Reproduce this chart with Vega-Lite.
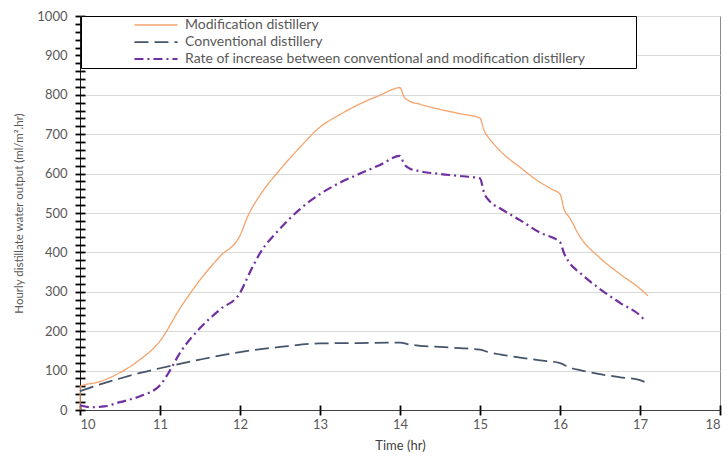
{
  "$schema": "https://vega.github.io/schema/vega-lite/v6.json",
  "width": 640,
  "height": 394,
  "autosize": "none",
  "padding": {"left": 80, "top": 16, "right": 7, "bottom": 47},
  "background": "white",
  "config": {
    "view": {"stroke": "#8c8c8c", "strokeWidth": 1},
    "font": "Lato"
  },
  "data": {
    "values": [
      {"t": 10, "v": 0, "series": "Modification distillery"},
      {"t": 10.003, "v": 60, "series": "Modification distillery"},
      {"t": 10.25, "v": 72, "series": "Modification distillery"},
      {"t": 10.5, "v": 95, "series": "Modification distillery"},
      {"t": 10.75, "v": 128, "series": "Modification distillery"},
      {"t": 11, "v": 175, "series": "Modification distillery"},
      {"t": 11.25, "v": 258, "series": "Modification distillery"},
      {"t": 11.5, "v": 330, "series": "Modification distillery"},
      {"t": 11.75, "v": 390, "series": "Modification distillery"},
      {"t": 12, "v": 443, "series": "Modification distillery"},
      {"t": 12.1, "v": 493, "series": "Modification distillery"},
      {"t": 12.25, "v": 545, "series": "Modification distillery"},
      {"t": 12.5, "v": 610, "series": "Modification distillery"},
      {"t": 12.75, "v": 667, "series": "Modification distillery"},
      {"t": 13, "v": 718, "series": "Modification distillery"},
      {"t": 13.25, "v": 750, "series": "Modification distillery"},
      {"t": 13.5, "v": 777, "series": "Modification distillery"},
      {"t": 13.75, "v": 799, "series": "Modification distillery"},
      {"t": 14, "v": 818, "series": "Modification distillery"},
      {"t": 14.05, "v": 795, "series": "Modification distillery"},
      {"t": 14.1, "v": 786, "series": "Modification distillery"},
      {"t": 14.25, "v": 776, "series": "Modification distillery"},
      {"t": 14.5, "v": 763, "series": "Modification distillery"},
      {"t": 14.75, "v": 752, "series": "Modification distillery"},
      {"t": 15, "v": 741, "series": "Modification distillery"},
      {"t": 15.05, "v": 710, "series": "Modification distillery"},
      {"t": 15.12, "v": 688, "series": "Modification distillery"},
      {"t": 15.25, "v": 658, "series": "Modification distillery"},
      {"t": 15.5, "v": 616, "series": "Modification distillery"},
      {"t": 15.75, "v": 578, "series": "Modification distillery"},
      {"t": 15.9, "v": 560, "series": "Modification distillery"},
      {"t": 16, "v": 548, "series": "Modification distillery"},
      {"t": 16.05, "v": 510, "series": "Modification distillery"},
      {"t": 16.12, "v": 488, "series": "Modification distillery"},
      {"t": 16.25, "v": 440, "series": "Modification distillery"},
      {"t": 16.5, "v": 386, "series": "Modification distillery"},
      {"t": 16.75, "v": 345, "series": "Modification distillery"},
      {"t": 17, "v": 308, "series": "Modification distillery"},
      {"t": 17.1, "v": 290, "series": "Modification distillery"},

      {"t": 10, "v": 48, "series": "Conventional distillery"},
      {"t": 10.25, "v": 65, "series": "Conventional distillery"},
      {"t": 10.5, "v": 80, "series": "Conventional distillery"},
      {"t": 10.75, "v": 94, "series": "Conventional distillery"},
      {"t": 11, "v": 106, "series": "Conventional distillery"},
      {"t": 11.5, "v": 128, "series": "Conventional distillery"},
      {"t": 12, "v": 147, "series": "Conventional distillery"},
      {"t": 12.5, "v": 160, "series": "Conventional distillery"},
      {"t": 13, "v": 169, "series": "Conventional distillery"},
      {"t": 13.5, "v": 170, "series": "Conventional distillery"},
      {"t": 14, "v": 171, "series": "Conventional distillery"},
      {"t": 14.12, "v": 166, "series": "Conventional distillery"},
      {"t": 14.25, "v": 163, "series": "Conventional distillery"},
      {"t": 14.5, "v": 160, "series": "Conventional distillery"},
      {"t": 14.75, "v": 157, "series": "Conventional distillery"},
      {"t": 15, "v": 153, "series": "Conventional distillery"},
      {"t": 15.12, "v": 146, "series": "Conventional distillery"},
      {"t": 15.25, "v": 141, "series": "Conventional distillery"},
      {"t": 15.5, "v": 133, "series": "Conventional distillery"},
      {"t": 15.75, "v": 126, "series": "Conventional distillery"},
      {"t": 16, "v": 119, "series": "Conventional distillery"},
      {"t": 16.12, "v": 108, "series": "Conventional distillery"},
      {"t": 16.25, "v": 101, "series": "Conventional distillery"},
      {"t": 16.5, "v": 91, "series": "Conventional distillery"},
      {"t": 16.75, "v": 83, "series": "Conventional distillery"},
      {"t": 17, "v": 76, "series": "Conventional distillery"},
      {"t": 17.08, "v": 69, "series": "Conventional distillery"},

      {"t": 10, "v": 12, "series": "Rate of increase between conventional and modification distillery"},
      {"t": 10.15, "v": 7, "series": "Rate of increase between conventional and modification distillery"},
      {"t": 10.3, "v": 9, "series": "Rate of increase between conventional and modification distillery"},
      {"t": 10.5, "v": 20, "series": "Rate of increase between conventional and modification distillery"},
      {"t": 10.75, "v": 35, "series": "Rate of increase between conventional and modification distillery"},
      {"t": 11, "v": 63, "series": "Rate of increase between conventional and modification distillery"},
      {"t": 11.1, "v": 92, "series": "Rate of increase between conventional and modification distillery"},
      {"t": 11.25, "v": 145, "series": "Rate of increase between conventional and modification distillery"},
      {"t": 11.5, "v": 208, "series": "Rate of increase between conventional and modification distillery"},
      {"t": 11.75, "v": 255, "series": "Rate of increase between conventional and modification distillery"},
      {"t": 12, "v": 297, "series": "Rate of increase between conventional and modification distillery"},
      {"t": 12.12, "v": 348, "series": "Rate of increase between conventional and modification distillery"},
      {"t": 12.25, "v": 398, "series": "Rate of increase between conventional and modification distillery"},
      {"t": 12.5, "v": 460, "series": "Rate of increase between conventional and modification distillery"},
      {"t": 12.75, "v": 510, "series": "Rate of increase between conventional and modification distillery"},
      {"t": 13, "v": 548, "series": "Rate of increase between conventional and modification distillery"},
      {"t": 13.25, "v": 577, "series": "Rate of increase between conventional and modification distillery"},
      {"t": 13.5, "v": 600, "series": "Rate of increase between conventional and modification distillery"},
      {"t": 13.75, "v": 622, "series": "Rate of increase between conventional and modification distillery"},
      {"t": 14, "v": 645, "series": "Rate of increase between conventional and modification distillery"},
      {"t": 14.05, "v": 625, "series": "Rate of increase between conventional and modification distillery"},
      {"t": 14.12, "v": 613, "series": "Rate of increase between conventional and modification distillery"},
      {"t": 14.25, "v": 606, "series": "Rate of increase between conventional and modification distillery"},
      {"t": 14.5, "v": 599, "series": "Rate of increase between conventional and modification distillery"},
      {"t": 14.75, "v": 594, "series": "Rate of increase between conventional and modification distillery"},
      {"t": 15, "v": 588, "series": "Rate of increase between conventional and modification distillery"},
      {"t": 15.05, "v": 552, "series": "Rate of increase between conventional and modification distillery"},
      {"t": 15.12, "v": 530, "series": "Rate of increase between conventional and modification distillery"},
      {"t": 15.25, "v": 512, "series": "Rate of increase between conventional and modification distillery"},
      {"t": 15.5, "v": 482, "series": "Rate of increase between conventional and modification distillery"},
      {"t": 15.75, "v": 450, "series": "Rate of increase between conventional and modification distillery"},
      {"t": 16, "v": 426, "series": "Rate of increase between conventional and modification distillery"},
      {"t": 16.05, "v": 398, "series": "Rate of increase between conventional and modification distillery"},
      {"t": 16.12, "v": 373, "series": "Rate of increase between conventional and modification distillery"},
      {"t": 16.25, "v": 348, "series": "Rate of increase between conventional and modification distillery"},
      {"t": 16.5, "v": 307, "series": "Rate of increase between conventional and modification distillery"},
      {"t": 16.75, "v": 272, "series": "Rate of increase between conventional and modification distillery"},
      {"t": 17, "v": 240, "series": "Rate of increase between conventional and modification distillery"},
      {"t": 17.06, "v": 228, "series": "Rate of increase between conventional and modification distillery"}
    ]
  },
  "layer": [
    {
      "mark": {"type": "line", "interpolate": "monotone"},
      "encoding": {
        "x": {
          "field": "t", "type": "quantitative",
          "scale": {"domain": [10, 18], "nice": false, "zero": false},
          "axis": {
            "title": "Time (hr)", "titleColor": "#404040", "titleFontSize": 13, "titleFontWeight": "normal", "titlePadding": 8,
            "values": [10, 11, 12, 13, 14, 15, 16, 17, 18],
            "format": "d", "labelColor": "#595959", "labelFontSize": 13, "labelPadding": 3,
            "tickSize": 5, "tickWidth": 1.8, "tickColor": "#000000", "domainColor": "#404040", "grid": false
          }
        },
        "y": {
          "field": "v", "type": "quantitative",
          "scale": {"domain": [0, 1000], "nice": false},
          "axis": {
            "title": "Hourly distillate water output (ml/m².hr)", "titleColor": "#595959", "titleFontSize": 11.5, "titleFontWeight": "normal", "titlePadding": 12,
            "values": [0,20,40,60,80,100,120,140,160,180,200,220,240,260,280,300,320,340,360,380,400,420,440,460,480,500,520,540,560,580,600,620,640,660,680,700,720,740,760,780,800,820,840,860,880,900,920,940,960,980,1000],
            "format": "d",
            "labelExpr": "datum.value % 100 === 0 ? datum.label : ''",
            "labelColor": "#595959", "labelFontSize": 13, "labelPadding": 8,
            "tickSize": 5, "tickWidth": 1.8, "tickColor": "#000000", "domainColor": "#1a1a1a",
            "grid": true,
            "gridColor": {"condition": {"test": "datum.value % 100 === 0 && datum.value > 0", "value": "#d9d9d9"}, "value": "transparent"},
            "gridWidth": 1
          }
        },
        "color": {
          "field": "series", "type": "nominal",
          "scale": {
            "domain": ["Modification distillery", "Conventional distillery", "Rate of increase between conventional and modification distillery"],
            "range": ["#F4A26A", "#44546A", "#7030A0"]
          },
          "legend": {
            "title": "\u00a0", "titleOrient": "right", "titlePadding": 49, "titleFontSize": 8,
            "orient": "none", "legendX": 1, "legendY": 0, "direction": "vertical",
            "strokeColor": "#000000", "fillColor": "#ffffff", "padding": 2,
            "symbolType": "M-4,0H4", "symbolSize": 116, "symbolOffset": 66,
            "labelFont": "Lato", "labelFontSize": 14, "labelColor": "#595959", "labelOffset": 22, "labelLimit": 700,
            "rowPadding": 3
          }
        },
        "strokeDash": {
          "field": "series", "type": "nominal",
          "scale": {
            "domain": ["Modification distillery", "Conventional distillery", "Rate of increase between conventional and modification distillery"],
            "range": [[1, 0], [14, 6], [9, 4, 2, 4]]
          }
        },
        "strokeWidth": {
          "field": "series", "type": "nominal",
          "scale": {
            "domain": ["Modification distillery", "Conventional distillery", "Rate of increase between conventional and modification distillery"],
            "range": [1.3, 2.2, 2.6]
          }
        }
      }
    },
    {
      "mark": {"type": "line", "strokeOpacity": 0},
      "encoding": {
        "x": {
          "field": "t", "type": "quantitative",
          "axis": {"orient": "bottom", "offset": -5, "title": null, "labels": false, "domain": false, "grid": false,
                   "values": [10, 11, 12, 13, 14, 15, 16, 17, 18], "tickSize": 5, "tickWidth": 1.8, "tickColor": "#000000"}
        },
        "y": {
          "field": "v", "type": "quantitative",
          "axis": {"orient": "left", "offset": -5, "title": null, "labels": false, "domain": false, "grid": false,
                   "values": [0,20,40,60,80,100,120,140,160,180,200,220,240,260,280,300,320,340,360,380,400,420,440,460,480,500,520,540,560,580,600,620,640,660,680,700,720,740,760,780,800,820,840,860,880,900,920,940,960,980,1000],
                   "tickSize": 5, "tickWidth": 1.8, "tickColor": "#000000"}
        },
        "detail": {"field": "series", "type": "nominal"}
      }
    }
  ],
  "resolve": {"axis": {"x": "independent", "y": "independent"}}
}
